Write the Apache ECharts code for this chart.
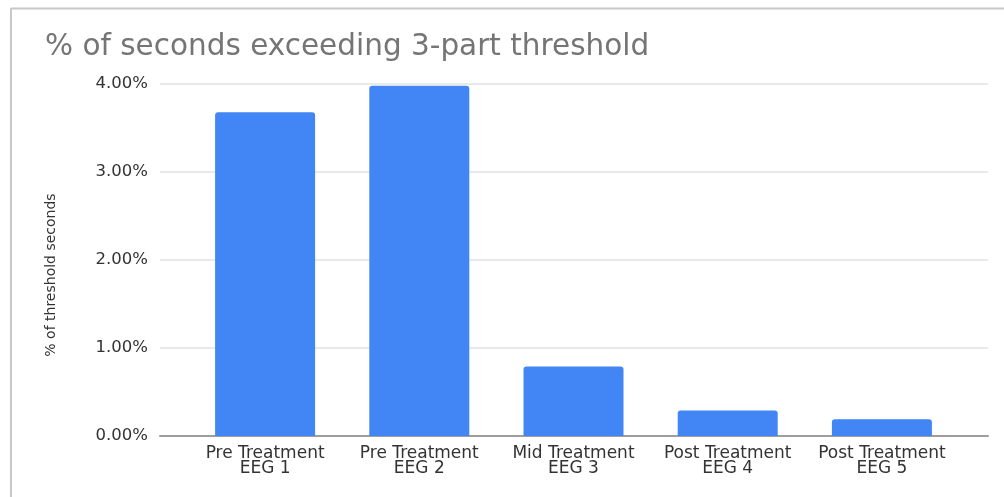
<!DOCTYPE html>
<html>
<head>
<meta charset="utf-8">
<script src="https://cdn.jsdelivr.net/npm/echarts@6/dist/echarts.min.js"></script>
<style>
  html, body { margin: 0; padding: 0; background: #fff; }
  #chart { width: 1004px; height: 497px; }
</style>
</head>
<body>
<div id="chart"></div>
<script>
// Share of seconds above the 3-part threshold, per EEG session
const categories = [
  'Pre Treatment\nEEG 1',
  'Pre Treatment\nEEG 2',
  'Mid Treatment\nEEG 3',
  'Post Treatment\nEEG 4',
  'Post Treatment\nEEG 5'
];
const shareValues = [0.0368, 0.0398, 0.0079, 0.0029, 0.0019];
const yTicks = [0, 0.01, 0.02, 0.03, 0.04];
const yAxisTitle = '% of threshold seconds';

const chart = echarts.init(document.getElementById('chart'));
const fontFamily = '"DejaVu Sans", "Liberation Sans", Arial, sans-serif';

chart.setOption({
  animation: false,
  backgroundColor: '#fff',
  title: {
    text: '% of seconds exceeding 3-part threshold',
    left: 40,
    top: 27,
    textStyle: { fontFamily, fontSize: 29.5, fontWeight: 'normal', color: '#757575' }
  },
  graphic: [
    // outer frame of the chart panel
    { type: 'line', shape: { x1: 11, y1: 8.5, x2: 1004, y2: 8.5 }, style: { stroke: '#c8c8c8', lineWidth: 2 } },
    { type: 'line', shape: { x1: 11, y1: 8, x2: 11, y2: 497 }, style: { stroke: '#c8c8c8', lineWidth: 2 } },
    // vertical axis title
    {
      type: 'text', x: 51, y: 275, rotation: Math.PI / 2,
      style: {
        text: yAxisTitle, fontFamily, fontSize: 14, fill: '#333',
        align: 'center', verticalAlign: 'middle'
      }
    }
  ],
  grid: [
    // gridlines panel (wider than the bars)
    { left: 160, right: 16, top: 84, bottom: 61 },
    // bars panel
    { left: 188, right: 45, top: 84, bottom: 61 }
  ],
  xAxis: [
    {
      gridIndex: 0, type: 'category', data: categories,
      axisLine: { show: true, lineStyle: { color: '#9e9e9e', width: 2 } },
      axisTick: { show: false }, axisLabel: { show: false }
    },
    {
      gridIndex: 1, type: 'category', data: categories,
      axisLine: { show: false }, axisTick: { show: false },
      axisLabel: {
        interval: 0, fontFamily, fontSize: 17, color: '#333', lineHeight: 15, margin: 10
      }
    }
  ],
  yAxis: [
    {
      gridIndex: 0, type: 'value',
      min: yTicks[0], max: yTicks[yTicks.length - 1], interval: 0.01,
      axisLine: { show: false }, axisTick: { show: false },
      axisLabel: {
        fontFamily, fontSize: 16.5, color: '#333', margin: 12,
        formatter: v => (v * 100).toFixed(2) + '%'
      },
      splitLine: { lineStyle: { color: '#e2e2e2', width: 1.5 } }
    },
    {
      gridIndex: 1, type: 'value',
      min: yTicks[0], max: yTicks[yTicks.length - 1], interval: 0.01,
      show: false, splitLine: { show: false }
    }
  ],
  series: [{
    type: 'bar',
    xAxisIndex: 1, yAxisIndex: 1,
    data: shareValues,
    barWidth: 100,
    itemStyle: { color: '#4285f4', borderRadius: [3, 3, 0, 0] }
  }]
});
</script>
</body>
</html>
